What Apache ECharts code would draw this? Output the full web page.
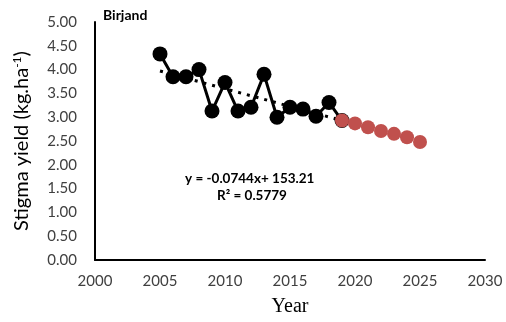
<!DOCTYPE html>
<html>
  <head>
    <meta charset="utf-8" />
    <title>Birjand stigma yield</title>
    <script src="https://cdn.jsdelivr.net/npm/echarts@6/dist/echarts.min.js"></script>
    <style>
      html, body { margin: 0; padding: 0; background: #fff; }
      #main { width: 506px; height: 322px; }
    </style>
  </head>
  <body>
    <div id="main"></div>
    <script type="text/javascript">
// observed yield
let years = [2005, 2006, 2007, 2008, 2009, 2010, 2011, 2012, 2013, 2014, 2015, 2016, 2017, 2018, 2019];
let observed = [4.33, 3.85, 3.85, 4.0, 3.13, 3.73, 3.13, 3.21, 3.9, 3.0, 3.21, 3.17, 3.02, 3.31, 2.93];
// forecast (red)
let forecastYears = [2019, 2020, 2021, 2022, 2023, 2024, 2025];
let forecast = [2.93, 2.87, 2.79, 2.71, 2.65, 2.58, 2.48];
// linear trend end points
let trendYears = [2005, 2019];
let trendValues = [3.97, 2.93];
let yTicks = [0, 0.5, 1, 1.5, 2, 2.5, 3, 3.5, 4, 4.5, 5];

var myChart = echarts.init(document.getElementById('main'));

function pairs(xs, ys) {
  return xs.map(function (x, i) { return [x, ys[i]]; });
}

option = {
  animation: false,
  grid: { left: 95, right: 21, top: 22, bottom: 60 },
  xAxis: {
    type: 'value',
    min: 2000,
    max: 2030,
    interval: 5,
    name: 'Year',
    nameLocation: 'middle',
    nameGap: 37,
    nameTextStyle: { fontFamily: 'Liberation Serif', fontSize: 20, color: '#000' },
    axisLine: { lineStyle: { color: '#000', width: 2 } },
    axisTick: { show: false },
    splitLine: { show: false },
    axisLabel: {
      fontFamily: 'Lato', fontSize: 15, color: '#404040', margin: 14,
      formatter: function (v) { return String(v); }
    }
  },
  yAxis: {
    type: 'value',
    min: yTicks[0],
    max: yTicks[yTicks.length - 1],
    interval: 0.5,
    name: '{a|Stigma yield (kg.ha}{s|-1}{a|)}',
    nameLocation: 'middle',
    nameGap: 62,
    nameTextStyle: {
      rich: {
        a: { fontFamily: 'Lato', fontSize: 20, color: '#000' },
        s: { fontFamily: 'Lato', fontSize: 12, color: '#000', verticalAlign: 'top', padding: [0, 0, 10, 0] }
      }
    },
    axisLine: { lineStyle: { color: '#000', width: 2 } },
    axisTick: { show: false },
    splitLine: { show: false },
    axisLabel: {
      fontFamily: 'Lato', fontSize: 15, color: '#404040', margin: 18,
      formatter: function (v) { return v.toFixed(2); }
    }
  },
  graphic: [
    { type: 'text', left: 103, top: 8, style: { text: 'Birjand', fontFamily: 'Lato', fontWeight: 'bold', fontSize: 14, fill: '#000' } },
    { type: 'text', left: 185, top: 172, style: { text: 'y = -0.0744x+ 153.21', fontFamily: 'Lato', fontWeight: 'bold', fontSize: 13.5, fill: '#000' } },
    { type: 'text', left: 217, top: 189, style: { text: 'R² = 0.5779', fontFamily: 'Lato', fontWeight: 'bold', fontSize: 13.5, fill: '#000' } }
  ],
  series: [
    {
      type: 'line',
      data: pairs(trendYears, trendValues),
      symbol: 'none',
      lineStyle: { color: '#000', width: 3, type: [3, 6] },
      z: 1
    },
    {
      type: 'line',
      data: pairs(years, observed),
      symbol: 'circle',
      symbolSize: 15,
      itemStyle: { color: '#000' },
      lineStyle: { color: '#000', width: 3 },
      z: 2
    },
    {
      type: 'scatter',
      data: pairs(forecastYears, forecast),
      symbol: 'circle',
      symbolSize: 14,
      itemStyle: { color: '#c0504d', opacity: 1 },
      z: 3
    }
  ]
};

myChart.setOption(option);
    </script>
  </body>
</html>
